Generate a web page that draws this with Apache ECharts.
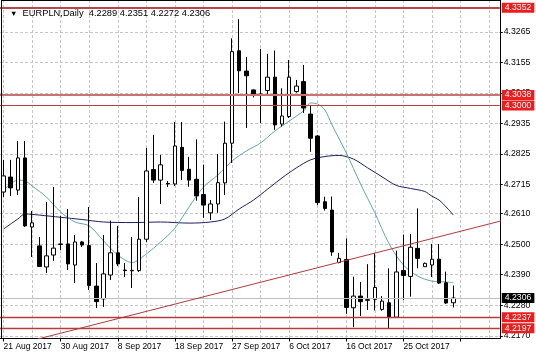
<!DOCTYPE html>
<html>
<head>
<meta charset="utf-8">
<script src="https://cdn.jsdelivr.net/npm/echarts@6/dist/echarts.min.js"></script>
<style>html,body{margin:0;padding:0;background:#fff;}#c{width:536px;height:357px;}</style>
</head>
<body>
<div id="c"></div>
<script>
// ---- data ----
const symbolName = 'EURPLN,Daily';
const dates = ['21 Aug 2017','22 Aug 2017','23 Aug 2017','24 Aug 2017','25 Aug 2017','27 Aug 2017','28 Aug 2017','29 Aug 2017','30 Aug 2017','31 Aug 2017',
 '1 Sep 2017','3 Sep 2017','4 Sep 2017','5 Sep 2017','6 Sep 2017','7 Sep 2017','8 Sep 2017','10 Sep 2017','11 Sep 2017','12 Sep 2017',
 '13 Sep 2017','14 Sep 2017','15 Sep 2017','17 Sep 2017','18 Sep 2017','19 Sep 2017','20 Sep 2017','21 Sep 2017','22 Sep 2017','24 Sep 2017',
 '25 Sep 2017','26 Sep 2017','27 Sep 2017','28 Sep 2017','29 Sep 2017','1 Oct 2017','2 Oct 2017','3 Oct 2017','4 Oct 2017','5 Oct 2017',
 '6 Oct 2017','8 Oct 2017','9 Oct 2017','10 Oct 2017','11 Oct 2017','12 Oct 2017','13 Oct 2017','15 Oct 2017','16 Oct 2017','17 Oct 2017',
 '18 Oct 2017','19 Oct 2017','20 Oct 2017','22 Oct 2017','23 Oct 2017','24 Oct 2017','25 Oct 2017','26 Oct 2017','27 Oct 2017','29 Oct 2017',
 '30 Oct 2017','31 Oct 2017','1 Nov 2017','2 Nov 2017'];
const futureSlots = ['', '', '', '', '', ''];

const open = [4.2688,4.2742,4.2695,4.2811,4.2562,4.2494,4.2418,4.2461,4.2499,4.2501,
 4.2425,4.2508,4.2495,4.2349,4.2303,4.2389,4.2469,4.2407,4.2404,4.2405,
 4.2518,4.2769,4.2731,4.2719,4.2717,4.2849,4.2770,4.2734,4.2679,4.2613,
 4.2645,4.2721,4.2864,4.3197,4.3124,4.3056,4.3041,4.3054,4.3102,4.2933,
 4.2960,4.3050,4.3086,4.2969,4.2890,4.2653,4.2623,4.2434,4.2445,4.2271,
 4.2313,4.2300,4.2301,4.2265,4.2289,4.2237,4.2405,4.2384,4.2485,4.2419,
 4.2425,4.2446,4.2361,4.2289];
const close = [4.2746,4.2703,4.2811,4.2566,4.2577,4.2420,4.2458,4.2486,4.2501,4.2429,
 4.2508,4.2497,4.2351,4.2293,4.2393,4.2469,4.2429,4.2405,4.2406,4.2518,
 4.2764,4.2731,4.2786,4.2717,4.2854,4.2766,4.2731,4.2674,4.2641,4.2645,
 4.2722,4.2864,4.3194,4.3125,4.3107,4.3041,4.3040,4.3102,4.2930,4.2962,
 4.3102,4.3070,4.2991,4.2882,4.2650,4.2629,4.2472,4.2449,4.2272,4.2313,
 4.2293,4.2298,4.2344,4.2295,4.2237,4.2400,4.2387,4.2489,4.2449,4.2431,
 4.2446,4.2360,4.2288,4.2306];
const high = [4.2804,4.2804,4.2872,4.2872,4.2620,4.2526,4.2652,4.2706,4.2602,4.2627,
 4.2533,4.2512,4.2634,4.2432,4.2533,4.2585,4.2566,4.2432,4.2526,4.2670,
 4.2847,4.2894,4.2822,4.2728,4.2940,4.2940,4.2815,4.2878,4.2787,4.2659,
 4.2825,4.2942,4.3242,4.3311,4.3175,4.3058,4.3204,4.3186,4.3198,4.3062,
 4.3164,4.3092,4.3146,4.3002,4.2894,4.2671,4.2672,4.2469,4.2521,4.2383,
 4.2364,4.2428,4.2468,4.2313,4.2413,4.2477,4.2535,4.2537,4.2629,4.2434,
 4.2501,4.2501,4.2401,4.2351];
const low = [4.2670,4.2674,4.2677,4.2562,4.2454,4.2418,4.2396,4.2440,4.2479,4.2407,
 4.2360,4.2490,4.2335,4.2270,4.2274,4.2371,4.2421,4.2382,4.2342,4.2400,
 4.2508,4.2721,4.2645,4.2706,4.2710,4.2731,4.2707,4.2657,4.2595,4.2587,
 4.2613,4.2677,4.2793,4.3044,4.2919,4.3029,4.2937,4.3041,4.2912,4.2924,
 4.2955,4.3046,4.2973,4.2833,4.2641,4.2621,4.2458,4.2431,4.2249,4.2201,
 4.2241,4.2263,4.2261,4.2260,4.2197,4.2234,4.2299,4.2311,4.2413,4.2418,
 4.2382,4.2357,4.2285,4.2272];

// moving averages read at selected bars [barIndex, value]
const fastMA = [[0,4.2695],[2,4.2731],[3,4.2728],[4,4.2710],[6,4.2670],[8,4.2616],[10,4.2580],[12,4.2566],[14,4.2512],[16,4.2461],
 [18,4.2434],[20,4.2465],[22,4.2508],[24,4.2558],[26,4.2635],[28,4.2706],[30,4.2749],[32,4.2800],[34,4.2836],[36,4.2865],
 [38,4.2908],[40,4.2944],[42,4.2980],[43,4.3009],[44,4.3005],[45,4.2984],[46,4.2930],[48,4.2829],[50,4.2717],[52,4.2613],
 [54,4.2501],[56,4.2425],[58,4.2385],[60,4.2367],[62,4.2364],[63,4.2361]];
const slowMA = [[0,4.2555],[2,4.2591],[3,4.2609],[5,4.2605],[8,4.2597],[11,4.2589],[14,4.2580],[18,4.2578],[22,4.2580],[26,4.2576],
 [29,4.2580],[31,4.2591],[33,4.2627],[35,4.2659],[37,4.2699],[39,4.2739],[41,4.2775],[43,4.2804],[45,4.2816],[47,4.2820],
 [49,4.2807],[51,4.2775],[53,4.2743],[55,4.2712],[57,4.2701],[59,4.2690],[60,4.2673],[61,4.2659],[62,4.2634],[63,4.2605]];

// trend line end points [barIndex, price]
const trendLine = [[4,4.2153],[70,4.2586]];
// horizontal price levels
const levels = [4.3352, 4.3038, 4.3000, 4.2237, 4.2197];
// right price-scale tick labels
const yTicks = [4.2170,4.2280,4.2390,4.2500,4.2610,4.2715,4.2825,4.2935,4.3045,4.3155,4.3265];

// ---- chart ----
const categories = dates.concat(futureSlots);
const candles = open.map((o, i) => [o, close[i], low[i], high[i]]);
const last = open.length - 1;
const fmt = v => Number(v).toFixed(4);
const FONT = "'Liberation Sans', Arial, sans-serif";

const levelStyles = [
  {color:'#b8464c', width:2},
  {color:'#c77373', width:2},
  {color:'#b8403f', width:1.2},
  {color:'#b53c3c', width:1.3},
  {color:'#b53c3c', width:1.3}
];

const markLineData = levels.map((v, k) => ({
  yAxis: v,
  lineStyle: {color: levelStyles[k].color, width: levelStyles[k].width, type: 'solid'},
  label: {show: true, position: 'end', distance: 2, formatter: () => fmt(v),
          backgroundColor: '#ee1c1c', color: '#fff', fontSize: 8.7, fontFamily: FONT,
          padding: [1, 3, 0, 3]}
}));
markLineData.unshift({
  yAxis: close[last],
  lineStyle: {color: '#c0c0c0', width: 1, type: 'solid'},
  label: {show: true, position: 'end', distance: 2, formatter: () => fmt(close[last]),
          backgroundColor: '#000', color: '#fff', fontSize: 8.7, fontFamily: FONT,
          padding: [1, 3, 0, 3]}
});

const chart = echarts.init(document.getElementById('c'), null, {renderer: 'canvas'});
const gridLine = {color: '#c6c6c6', width: 1, type: [3, 2]};

chart.setOption({
  animation: false,
  backgroundColor: '#ffffff',
  title: {
    left: 5, top: 4,
    text: '{tri|▼}  ' + symbolName + '  ' + [open[last], high[last], low[last], close[last]].map(fmt).join(' '),
    textStyle: {fontSize: 9.3, fontWeight: 'normal', color: '#000', fontFamily: FONT,
      rich: {tri: {fontSize: 7.5, color: '#000'}}}
  },
  grid: {left: -0.574, top: 0, width: 500.36, height: 338.5, show: false},
  xAxis: {
    type: 'category', data: categories, boundaryGap: true,
    axisLine: {show: true, lineStyle: {color: '#000', width: 1}},
    axisTick: {show: true, interval: 7, alignWithLabel: true, length: 3, lineStyle: {color: '#000'}},
    axisLabel: {show: true, interval: 7, align: 'left', margin: 3.5, fontSize: 8.5, color: '#000', fontFamily: FONT},
    splitLine: {show: true, interval: 3, alignWithLabel: true, lineStyle: gridLine}
  },
  yAxis: {
    type: 'value', position: 'right', min: 4.21602, max: 4.33801,
    axisLine: {show: true, lineStyle: {color: '#000', width: 1}},
    axisTick: {show: true, length: 3, customValues: yTicks, lineStyle: {color: '#000'}},
    axisLabel: {show: true, customValues: yTicks, formatter: v => fmt(v), margin: 4,
                fontSize: 8.7, color: '#000', fontFamily: FONT},
    splitLine: {show: true, lineStyle: gridLine}
  },
  series: [
    {
      type: 'line', data: slowMA, symbol: 'none', smooth: 0.3, connectNulls: true, clip: true,
      lineStyle: {color: '#1c1f63', width: 1}, z: 3, silent: true
    },
    {
      type: 'line', data: fastMA, symbol: 'none', smooth: 0.3, connectNulls: true, clip: true,
      lineStyle: {color: '#5fa8a8', width: 1}, z: 3, silent: true
    },
    {
      type: 'candlestick', data: candles, barWidth: 4, z: 4, silent: true,
      itemStyle: {color: '#ffffff', color0: '#000000', borderColor: '#000000', borderColor0: '#000000', borderWidth: 1},
      markLine: {silent: true, precision: 4, symbol: ['none', 'none'], animation: false, data: markLineData}
    },
    {
      type: 'line', data: trendLine, symbol: 'none', clip: true, silent: true, z: 5,
      lineStyle: {color: '#b03a3a', width: 1}
    }
  ],
  graphic: [
    {type: 'line', silent: true, z: 100, shape: {x1: 1.5, y1: 0, x2: 1.5, y2: 338.5}, style: {stroke: '#000', lineWidth: 1}},
    {type: 'line', silent: true, z: 100, shape: {x1: 1.5, y1: 0.5, x2: 500, y2: 0.5}, style: {stroke: '#000', lineWidth: 1}}
  ]
});
</script>
</body>
</html>
